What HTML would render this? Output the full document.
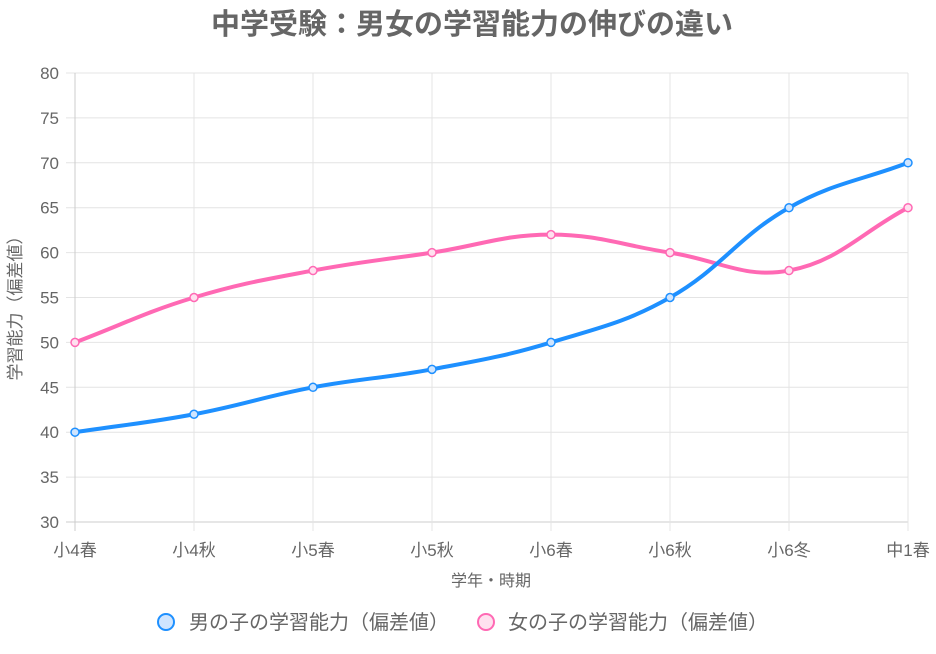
<!DOCTYPE html>
<html><head><meta charset="utf-8"><style>
body{margin:0;background:#fff;}
svg text{font-family:"Liberation Sans","Noto Sans CJK JP",sans-serif;fill:#666;}
</style></head><body>
<svg id="s" width="936" height="649" xmlns="http://www.w3.org/2000/svg">
<text x="472" y="34" text-anchor="middle" font-size="29" font-weight="bold">中学受験：男女の学習能力の伸びの違い</text>
<g id="grid"></g>
<text x="491" y="586" text-anchor="middle" font-size="16">学年・時期</text>
<text transform="translate(21,304) rotate(-90)" text-anchor="middle" font-size="17">学習能力（偏差値）</text>
<path id="pb" fill="none" stroke="#ff69b4" stroke-width="4"/>
<path id="bb" fill="none" stroke="#1e90ff" stroke-width="4"/>
<g id="pts"></g>
<circle cx="166" cy="622" r="8" fill="#cfe5ff" stroke="#1e90ff" stroke-width="2"/>
<text x="189" y="629" font-size="20">男の子の学習能力（偏差値）</text>
<circle cx="486" cy="622" r="8" fill="#ffe0ef" stroke="#ff69b4" stroke-width="2"/>
<text x="508" y="629" font-size="20">女の子の学習能力（偏差値）</text>
</svg>
<script>
var ns="http://www.w3.org/2000/svg",g=document.getElementById('grid'),P=document.getElementById('pts');
function el(t,a,p){var e=document.createElementNS(ns,t);for(var k in a)e.setAttribute(k,a[k]);(p||g).appendChild(e);return e;}
function X(i){return 75+i*119;}function Y(v){return 522-(v-30)*8.98;}
var labs=["小4春","小4秋","小5春","小5秋","小6春","小6秋","小6冬","中1春"];
for(var v=30;v<=80;v+=5){var y=Y(v);el('line',{x1:66,x2:908,y1:y,y2:y,stroke:v==30?'#ccc':'#e4e4e4'});var t=el('text',{x:59,y:y+6,'text-anchor':'end','font-size':'17'});t.textContent=v;}
for(var i=0;i<8;i++){var x=X(i);el('line',{x1:x,x2:x,y1:73,y2:531,stroke:i==0?'#ccc':'#e4e4e4'});var t=el('text',{x:x,y:556,'text-anchor':'middle','font-size':'17'});t.textContent=labs[i];}
function path(d){var p=d.map(function(v,i){return[X(i),Y(v)]}),s="M"+p[0][0]+","+p[0][1],T=0.4,cp=[];
for(var i=0;i<p.length;i++){var pr=p[Math.max(i-1,0)],c=p[i],n=p[Math.min(i+1,p.length-1)];
var d01=Math.hypot(c[0]-pr[0],c[1]-pr[1]),d12=Math.hypot(n[0]-c[0],n[1]-c[1]);
var fa=d01/(d01+d12)||0,fb=d12/(d01+d12)||0;fa*=T;fb*=T;
cp.push([[c[0]-fa*(n[0]-pr[0]),c[1]-fa*(n[1]-pr[1])],[c[0]+fb*(n[0]-pr[0]),c[1]+fb*(n[1]-pr[1])]]);}
for(var i=1;i<p.length;i++){s+=" C"+cp[i-1][1]+" "+cp[i][0]+" "+p[i];}return s;}
var B=[40,42,45,47,50,55,65,70],K=[50,55,58,60,62,60,58,65];
document.getElementById('bb').setAttribute('d',path(B));document.getElementById('pb').setAttribute('d',path(K));
for(var i=0;i<8;i++){el('circle',{cx:X(i),cy:Y(K[i]),r:4,fill:'#ffe0ef',stroke:'#ff69b4','stroke-width':1.5},P);el('circle',{cx:X(i),cy:Y(B[i]),r:4,fill:'#cfe5ff',stroke:'#1e90ff','stroke-width':1.5},P);}
</script>
</body></html>
